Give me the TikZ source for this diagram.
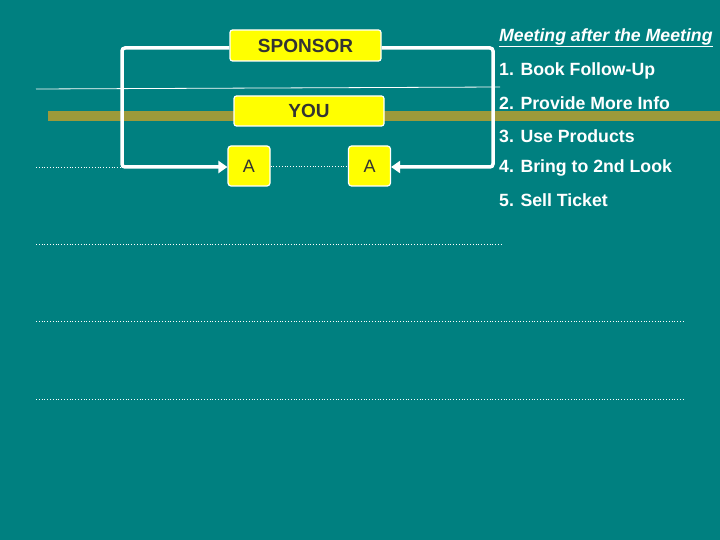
\documentclass[tikz,border=0pt]{standalone}
\usepackage{fontspec}
\setmainfont{Liberation Sans}
\usetikzlibrary{arrows.meta}
\definecolor{bg}{HTML}{008080}
\definecolor{olive}{HTML}{9C9A3A}
\definecolor{ylw}{HTML}{FFFF00}
\tikzset{
 ybox/.style={draw=white,fill=ylw,rounded corners=2.5pt,line width=1.2pt,inner sep=0pt,font=\bfseries\fontsize{19}{19}\selectfont,text=black!80},
 abox/.style={draw=white,fill=ylw,rounded corners=3pt,line width=1.2pt,minimum width=42pt,minimum height=40pt,inner sep=0pt,font=\fontsize{18}{18}\selectfont,text=black!80},
 loop/.style={draw=white,line width=3.5pt,-{Triangle[length=9pt,width=12pt]}},
 dotl/.style={draw=white,line width=0.8pt,dotted},
 lst/.style={anchor=west,text=white,font=\bfseries\fontsize{17.7}{17.7}\selectfont,inner sep=0pt}
}
\begin{document}
\begin{tikzpicture}[x=1pt,y=-1pt]
\fill[bg] (0,0) rectangle (720,540);
\useasboundingbox (0,0) rectangle (720,540);
\fill[olive] (48,111) rectangle (720,121);
\draw[white,line width=0.8pt] (36,89) -- (500,87);
\draw[dotl] (36,167) -- (122,167);
\draw[dotl] (36,244) -- (502,244);
\draw[dotl] (36,321) -- (683,321);
\draw[dotl] (36,399) -- (683,399);
\node[ybox,minimum width=151pt,minimum height=31pt] (sp) at (305.5,45.5) {SPONSOR};
\node[ybox,minimum width=150pt,minimum height=30pt] (you) at (309,111) {YOU};
\node[abox] (a1) at (249,166) {A};
\node[abox] (a2) at (369.5,166) {A};
\draw[dotl] (a1.east) -- (a2.west);
\coordinate (l1) at (122,48);
\coordinate (l2) at (122,167);
\coordinate (r1) at (493,48);
\coordinate (r2) at (493,167);
\draw[loop,rounded corners=3pt] (sp.west |- l1) -- (l1) -- (l2) -- (a1.west |- l2);
\draw[loop,rounded corners=3pt] (sp.east |- r1) -- (r1) -- (r2) -- (a2.east |- r2);
\node[anchor=west,text=white,font=\bfseries\itshape\fontsize{17.7}{17.7}\selectfont,inner sep=0pt] (h) at (499,38) {\underline{Meeting after the Meeting}};
\node[lst] (t1) at (499,71) {1. Book Follow-Up};
\node[lst] (t2) at (499,103) {2. Provide More Info};
\node[lst] (t3) at (499,136) {3. Use Products};
\node[lst] (t4) at (499,168) {4. Bring to 2nd Look};
\node[lst] (t5) at (499,200) {5. Sell Ticket};
\end{tikzpicture}
\end{document}
